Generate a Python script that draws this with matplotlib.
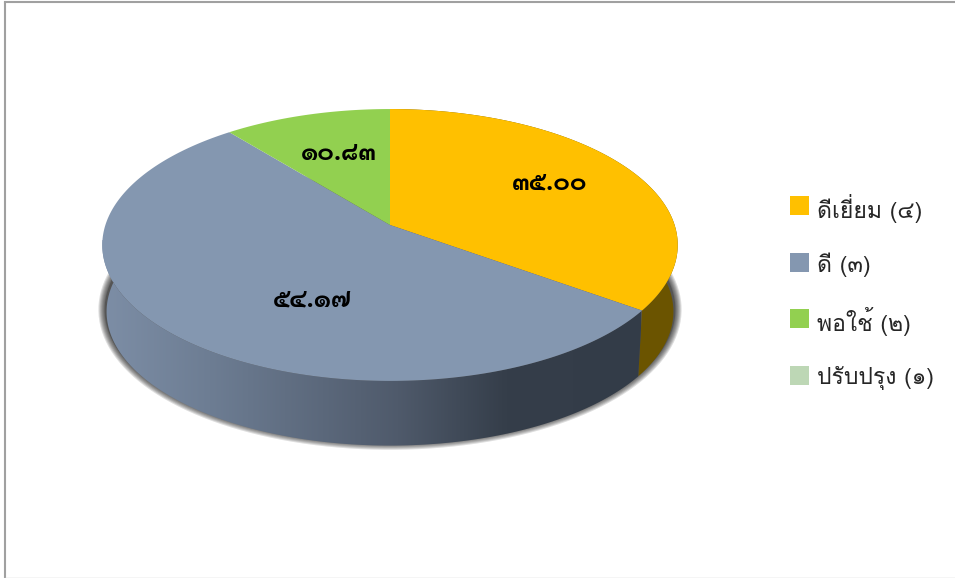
import numpy as np
import matplotlib
matplotlib.use('Agg')
import matplotlib.pyplot as plt
from matplotlib.colors import LinearSegmentedColormap
from matplotlib.patches import Rectangle

categories = ['ดีเยี่ยม (๔)', 'ดี (๓)', 'พอใช้ (๒)', 'ปรับปรุง (๑)']
values = [35.00, 54.17, 10.83, 0.00]
colors = ['#FFC000', '#8497B0', '#92D050', '#BDD7B5']
label_xy = [(550, 184), (312, 301), (339, 154)]

# Loma keeps tone marks above the vowels without shaping, Sarabun has the closer numerals
legend_font = ['Loma', 'DejaVu Sans']
label_font = ['Sarabun', 'DejaVu Sans']

THAI_DIGITS = str.maketrans('0123456789', '๐๑๒๓๔๕๖๗๘๙')

# pie is a tilted circle, so a projective map fits the ellipse and the slice edges
CX, CY = 390, 225
KX, KY, K = 284.6, 133, -0.147
DEPTH, SHRINK = 67, 0.985


def top_xy(theta):
    sx, sy = np.sin(theta), -np.cos(theta)
    d = 1 + K * sy
    return CX + KX * sx / d, CY + KY * sy / d


def bottom_xy(theta):
    x, y = top_xy(theta)
    return CX + SHRINK * (x - CX), CY + DEPTH + SHRINK * (y - CY)


fig = plt.figure(figsize=(9.55, 5.78), dpi=100)
ax = fig.add_axes([0, 0, 1, 1])
ax.axis('off')

# frame of the pasted chart
ax.plot([5, 5], [2.5, 578], color='#a0a0a0', lw=1.5)
ax.plot([5, 955], [2, 2], color='#a0a0a0', lw=1.5)
ax.plot([5, 955], [577.5, 577.5], color='#d0d0d0', lw=1)

edges = np.cumsum([0] + values) / 100 * 2 * np.pi

# soft shadow under the side wall
full = np.linspace(0, 2 * np.pi, 361)
bx, by = bottom_xy(full)
sx, sy = CX + 1.007 * (bx - CX), by - 2
for w in np.arange(9, 0, -1.5):
    ax.plot(sx, sy, color='black', lw=w, alpha=0.13, zorder=0.5)
ax.fill(sx, sy, color='#555555', lw=0, zorder=0.6)

# side walls
cmap = LinearSegmentedColormap.from_list('wall', [
    (0.0, '#7d8ea6'), (0.2, '#6d7d93'), (0.55, '#4f5a6b'),
    (0.75, '#353e4a'), (1.0, '#333c48')])
for i in range(len(values)):
    if values[i] == 0 or i == 2:
        continue
    th = np.linspace(edges[i], edges[i + 1], 200)
    tx, ty = top_xy(th)
    bx, by = bottom_xy(th)
    xs = np.r_[tx, bx[::-1]]
    ys = np.r_[ty, by[::-1]]
    if i == 0:
        ax.fill(xs, ys, color='#6B5400', lw=0, zorder=1)
    else:
        poly = ax.fill(xs, ys, color='none', lw=0)[0]
        im = ax.imshow(np.linspace(0, 1, 256)[None, :], cmap=cmap, aspect='auto',
                       extent=(102, 640, 460, 240), zorder=2)
        im.set_clip_path(poly)

# top face
for i in range(len(values)):
    if values[i] == 0:
        continue
    th = np.linspace(edges[i], edges[i + 1], 200)
    tx, ty = top_xy(th)
    ax.fill(np.r_[CX, tx], np.r_[CY, ty], color=colors[i], lw=0, zorder=3)

for v, (x, y) in zip(values, label_xy):
    ax.text(x, y, f'{v:.2f}'.translate(THAI_DIGITS), family=label_font,
            fontsize=18, fontweight='bold', ha='center', va='center', color='black', zorder=4)

# legend
for i, name in enumerate(categories):
    y = 205.5 + i * 56.6
    ax.add_patch(Rectangle((790, y - 9.5), 19, 19, color=colors[i], lw=0))
    ax.text(817, y + 3, name, family=legend_font, fontsize=16.5,
            ha='left', va='center', color='#262626')

ax.set_xlim(0, 955)
ax.set_ylim(578, 0)
fig.savefig('out.png', dpi=100)
